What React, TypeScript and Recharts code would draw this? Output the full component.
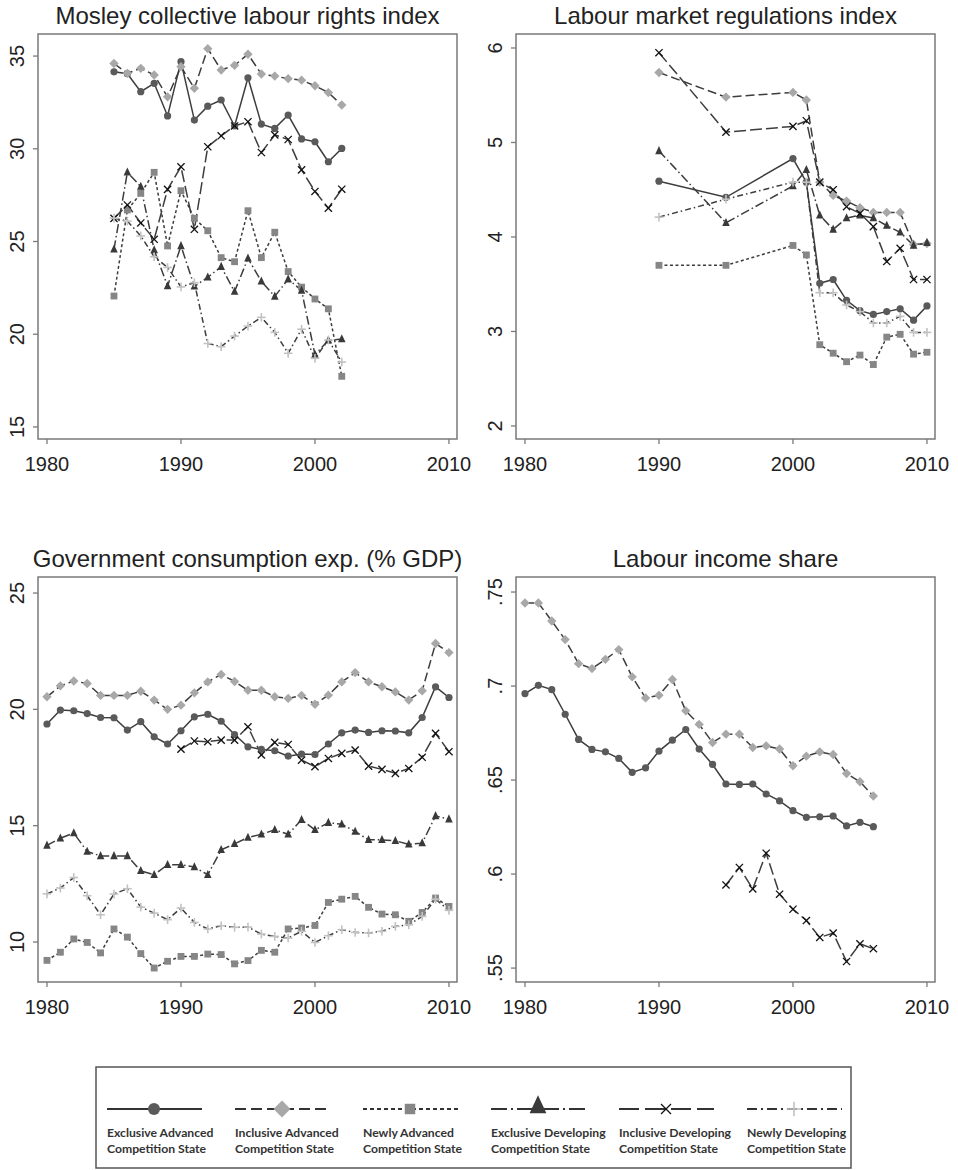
import React from 'react';
import { LineChart, Line, XAxis, YAxis, ReferenceArea } from 'recharts';

// ---------- data ----------
const mosleyYears = [1985, 1986, 1987, 1988, 1989, 1990, 1991, 1992, 1993, 1994, 1995, 1996, 1997, 1998, 1999, 2000, 2001, 2002];
const mosleyEA = [34.15, 34.05, 33.08, 33.53, 31.77, 34.7, 31.55, 32.3, 32.63, 31.23, 33.83, 31.33, 31.1, 31.82, 30.53, 30.38, 29.3, 30.02];
const mosleyIA = [34.6, 34.07, 34.34, 33.98, 32.8, 34.43, 33.26, 35.4, 34.25, 34.5, 35.1, 34.03, 33.92, 33.78, 33.7, 33.4, 33.03, 32.36];
const mosleyNA = [22.06, 26.7, 27.6, 28.73, 24.76, 27.74, 26.25, 25.58, 24.13, 23.91, 26.66, 24.13, 25.5, 23.38, 22.54, 21.9, 21.37, 17.73];
const mosleyED = [24.58, 28.73, 27.96, 24.54, 22.6, 24.76, 22.58, 23.07, 23.64, 22.3, 24.09, 22.85, 22.04, 22.97, 22.36, 18.9, 19.67, 19.74];
const mosleyID = [26.25, 26.97, 26.0, 25.12, 27.81, 29.03, 25.66, 30.11, 30.7, 31.23, 31.46, 29.8, 30.75, 30.5, 28.86, 27.7, 26.8, 27.82];
const mosleyND = [26.26, 26.1, 25.3, 24.18, 23.6, 22.55, 22.78, 19.5, 19.33, 19.9, 20.44, 20.91, 20.1, 18.97, 20.27, 18.7, 19.69, 18.5];

const lmrYears = [1990, 1995, 2000, 2001, 2002, 2003, 2004, 2005, 2006, 2007, 2008, 2009, 2010];
const lmrEA = [4.59, 4.42, 4.83, 4.58, 3.51, 3.55, 3.33, 3.22, 3.18, 3.21, 3.24, 3.12, 3.27];
const lmrIA = [5.74, 5.48, 5.53, 5.45, 4.58, 4.44, 4.38, 4.31, 4.26, 4.26, 4.26, 3.92, 3.93];
const lmrNA = [3.7, 3.7, 3.91, 3.81, 2.86, 2.77, 2.68, 2.75, 2.65, 2.94, 2.97, 2.76, 2.78];
const lmrED = [4.91, 4.15, 4.54, 4.71, 4.23, 4.08, 4.2, 4.23, 4.2, 4.12, 4.05, 3.91, 3.94];
const lmrID = [5.95, 5.11, 5.17, 5.23, 4.58, 4.5, 4.32, 4.25, 4.11, 3.74, 3.88, 3.55, 3.55];
const lmrND = [4.21, 4.4, 4.58, 4.58, 3.41, 3.41, 3.28, 3.21, 3.09, 3.09, 3.16, 2.99, 2.99];

const govYears = [1980, 1981, 1982, 1983, 1984, 1985, 1986, 1987, 1988, 1989, 1990, 1991, 1992, 1993, 1994, 1995, 1996, 1997, 1998, 1999, 2000, 2001, 2002, 2003, 2004, 2005, 2006, 2007, 2008, 2009, 2010];
const govEA = [19.37, 19.97, 19.94, 19.82, 19.65, 19.64, 19.11, 19.47, 18.82, 18.51, 19.08, 19.68, 19.79, 19.49, 18.92, 18.39, 18.28, 18.22, 17.99, 18.08, 18.06, 18.51, 18.99, 19.11, 19.01, 19.08, 19.07, 18.99, 19.65, 20.97, 20.51];
const govIA = [20.54, 21.01, 21.22, 21.11, 20.6, 20.6, 20.6, 20.78, 20.4, 20.0, 20.18, 20.71, 21.18, 21.5, 21.2, 20.82, 20.82, 20.54, 20.47, 20.6, 20.22, 20.61, 21.18, 21.58, 21.18, 20.97, 20.75, 20.4, 20.8, 22.83, 22.44];
const govNA = [9.21, 9.56, 10.13, 9.98, 9.53, 10.56, 10.21, 9.5, 8.88, 9.17, 9.38, 9.38, 9.48, 9.46, 9.06, 9.2, 9.64, 9.56, 10.56, 10.6, 10.71, 11.7, 11.84, 11.96, 11.49, 11.2, 11.17, 10.89, 11.27, 11.89, 11.53];
const govED = [14.15, 14.46, 14.68, 13.89, 13.7, 13.7, 13.7, 13.06, 12.89, 13.32, 13.32, 13.22, 12.89, 13.96, 14.22, 14.49, 14.63, 14.82, 14.63, 15.25, 14.82, 15.13, 15.06, 14.75, 14.39, 14.39, 14.35, 14.2, 14.25, 15.42, 15.28];
const govID = [null, null, null, null, null, null, null, null, null, null, 18.29, 18.64, 18.61, 18.68, 18.68, 19.25, 18.04, 18.58, 18.49, 17.82, 17.54, 17.89, 18.11, 18.25, 17.56, 17.42, 17.25, 17.46, 17.94, 18.97, 18.18];
const govND = [12.07, 12.32, 12.77, 11.99, 11.17, 12.06, 12.29, 11.5, 11.24, 10.96, 11.46, 10.84, 10.56, 10.7, 10.63, 10.64, 10.34, 10.24, 10.17, 10.46, 9.98, 10.27, 10.53, 10.41, 10.39, 10.46, 10.67, 10.74, 11.1, 11.84, 11.36];

const lisYears = [1980, 1981, 1982, 1983, 1984, 1985, 1986, 1987, 1988, 1989, 1990, 1991, 1992, 1993, 1994, 1995, 1996, 1997, 1998, 1999, 2000, 2001, 2002, 2003, 2004, 2005, 2006];
const lisEA = [0.696, 0.7004, 0.6981, 0.685, 0.6716, 0.6663, 0.665, 0.6615, 0.6541, 0.6565, 0.6654, 0.6712, 0.6769, 0.6665, 0.6583, 0.6479, 0.6477, 0.6479, 0.6426, 0.6389, 0.6337, 0.6302, 0.6305, 0.6309, 0.6256, 0.6275, 0.6252];
const lisIA = [0.7442, 0.7442, 0.7346, 0.7247, 0.7119, 0.7093, 0.7142, 0.7194, 0.7049, 0.6937, 0.6951, 0.7035, 0.6868, 0.6796, 0.67, 0.6744, 0.6744, 0.6673, 0.6682, 0.6665, 0.6576, 0.6627, 0.665, 0.6636, 0.6535, 0.6491, 0.6415];
const lisID = [null, null, null, null, null, null, null, null, null, null, null, null, null, null, null, 0.5942, 0.6035, 0.5921, 0.6111, 0.5893, 0.5813, 0.5753, 0.5663, 0.5686, 0.5535, 0.5629, 0.5603];

const xTicks = [1980, 1990, 2000, 2010];

// ---------- series styles ----------
type MarkerKind = 'circle' | 'diamond' | 'square' | 'triangle' | 'cross' | 'plus';

interface SeriesStyle {
  key: string;
  label: [string, string];
  marker: MarkerKind;
  fill: string;
  dash?: string;
  legendDash?: string;
}

const SERIES: SeriesStyle[] = [
  { key: 'ea', label: ['Exclusive Advanced', 'Competition State'], marker: 'circle', fill: '#5a5a5a' },
  { key: 'ia', label: ['Inclusive Advanced', 'Competition State'], marker: 'diamond', fill: '#a8a8a8', dash: '9 4', legendDash: '11 5' },
  { key: 'na', label: ['Newly Advanced', 'Competition State'], marker: 'square', fill: '#868686', dash: '3 2.5', legendDash: '4 3' },
  { key: 'ed', label: ['Exclusive Developing', 'Competition State'], marker: 'triangle', fill: '#3a3a3a', dash: '9 3 1.5 3', legendDash: '16 4 2 4' },
  { key: 'id', label: ['Inclusive Developing', 'Competition State'], marker: 'cross', fill: '#111111', dash: '12 4', legendDash: '20 6' },
  { key: 'nd', label: ['Newly Developing', 'Competition State'], marker: 'plus', fill: '#c2c2c2', dash: '6 3 1.5 3', legendDash: '10 4 2 4' },
];

const LINE_COLOR = '#3d3d3d';
const FRAME = '#7a7a7a';
const FONT = '"Liberation Sans", Arial, sans-serif';

function Marker({ kind, cx, cy, s, fill }: { kind: MarkerKind; cx: number; cy: number; s: number; fill: string }) {
  switch (kind) {
    case 'circle':
      return <circle cx={cx} cy={cy} r={s} fill={fill} />;
    case 'diamond':
      return (
        <polygon
          points={`${cx},${cy - s * 1.3} ${cx + s * 1.3},${cy} ${cx},${cy + s * 1.3} ${cx - s * 1.3},${cy}`}
          fill={fill}
        />
      );
    case 'square':
      return <rect x={cx - s * 0.95} y={cy - s * 0.95} width={s * 1.9} height={s * 1.9} fill={fill} />;
    case 'triangle':
      return (
        <polygon
          points={`${cx},${cy - s * 1.35} ${cx + s * 1.05},${cy + s * 0.9} ${cx - s * 1.05},${cy + s * 0.9}`}
          fill={fill}
        />
      );
    case 'cross':
      return (
        <g stroke={fill} strokeWidth={1.3}>
          <line x1={cx - s} y1={cy - s} x2={cx + s} y2={cy + s} />
          <line x1={cx - s} y1={cy + s} x2={cx + s} y2={cy - s} />
        </g>
      );
    default:
      return (
        <g stroke={fill} strokeWidth={1.6}>
          <line x1={cx - s * 1.2} y1={cy} x2={cx + s * 1.2} y2={cy} />
          <line x1={cx} y1={cy - s * 1.2} x2={cx} y2={cy + s * 1.2} />
        </g>
      );
  }
}

const renderDot = (st: SeriesStyle) => (p: any) => {
  const k = `${st.key}-${p.index}`;
  if (p.cx == null || p.cy == null || p.value == null) return <g key={k} />;
  return <Marker key={k} kind={st.marker} cx={p.cx} cy={p.cy} s={3.6} fill={st.fill} />;
};

// y tick labels stand on their side, read bottom to top
const RotatedTick = (props: any) => {
  const { x, y, payload, fmt } = props;
  return (
    <text
      x={x}
      y={y}
      transform={`rotate(-90 ${x} ${y})`}
      textAnchor="middle"
      fontSize={20}
      fontFamily={FONT}
      fill="#222"
    >
      {fmt(payload.value)}
    </text>
  );
};

interface Panel {
  title: string;
  left: number;
  top: number;
  years: number[];
  values: Record<string, (number | null)[]>;
  yDomain: [number, number];
  yTicks: number[];
  fmt: (v: number) => string;
}

const plain = (v: number) => String(v);
const noLeadingZero = (v: number) => String(v).replace(/^0/, '');

const panels: Panel[] = [
  {
    title: 'Mosley collective labour rights index',
    left: 0,
    top: 0,
    years: mosleyYears,
    values: { ea: mosleyEA, ia: mosleyIA, na: mosleyNA, ed: mosleyED, id: mosleyID, nd: mosleyND },
    yDomain: [14.35, 36.19],
    yTicks: [15, 20, 25, 30, 35],
    fmt: plain,
  },
  {
    title: 'Labour market regulations index',
    left: 478,
    top: 0,
    years: lmrYears,
    values: { ea: lmrEA, ia: lmrIA, na: lmrNA, ed: lmrED, id: lmrID, nd: lmrND },
    yDomain: [1.862, 6.148],
    yTicks: [2, 3, 4, 5, 6],
    fmt: plain,
  },
  {
    title: 'Government consumption exp. (% GDP)',
    left: 0,
    top: 543,
    years: govYears,
    values: { ea: govEA, ia: govIA, na: govNA, ed: govED, id: govID, nd: govND },
    yDomain: [8.28, 25.69],
    yTicks: [10, 15, 20, 25],
    fmt: plain,
  },
  {
    title: 'Labour income share',
    left: 478,
    top: 543,
    years: lisYears,
    values: { ea: lisEA, ia: lisIA, id: lisID },
    yDomain: [0.5426, 0.758],
    yTicks: [0.55, 0.6, 0.65, 0.7, 0.75],
    fmt: noLeadingZero,
  },
];

const X_DOMAIN: [number, number] = [1979.33, 2010.6];

function PanelChart({ panel }: { panel: Panel }) {
  const keys = SERIES.filter((s) => panel.values[s.key]);
  const rows = panel.years.map((year, i) => {
    const row: Record<string, number | null> = { year };
    keys.forEach((s) => {
      row[s.key] = panel.values[s.key][i];
    });
    return row;
  });

  return (
    <div style={{ position: 'absolute', left: panel.left, top: panel.top, width: 480, height: 480 }}>
      <div
        style={{
          position: 'absolute',
          left: 38,
          width: 419,
          top: 4,
          fontSize: 24,
          lineHeight: '24px',
          fontFamily: FONT,
          color: '#222',
          whiteSpace: 'nowrap',
          display: 'flex',
          justifyContent: 'center',
        }}
      >
        {panel.title}
      </div>
      <LineChart width={480} height={480} data={rows} margin={{ top: 34, right: 23, bottom: 6, left: 0 }}>
        <XAxis
          dataKey="year"
          type="number"
          domain={X_DOMAIN}
          ticks={xTicks}
          allowDataOverflow
          axisLine={false}
          tickSize={5}
          tickMargin={13}
          height={35}
          tickLine={{ stroke: FRAME, strokeWidth: 1.3 }}
          tick={{ fontSize: 20, fill: '#222', fontFamily: FONT }}
        />
        <YAxis
          type="number"
          domain={panel.yDomain}
          ticks={panel.yTicks}
          allowDataOverflow
          axisLine={false}
          width={38}
          tickSize={5}
          tickMargin={9}
          tickLine={{ stroke: FRAME, strokeWidth: 1.3 }}
          tick={<RotatedTick fmt={panel.fmt} />}
        />
        <ReferenceArea
          x1={X_DOMAIN[0]}
          x2={X_DOMAIN[1]}
          y1={panel.yDomain[0]}
          y2={panel.yDomain[1]}
          fill="none"
          fillOpacity={0}
          stroke={FRAME}
          strokeWidth={1.5}
        />
        {keys.map((s) => (
          <Line
            key={s.key}
            dataKey={s.key}
            type="linear"
            stroke={LINE_COLOR}
            strokeWidth={1.5}
            strokeDasharray={s.dash}
            dot={renderDot(s)}
            activeDot={false}
            isAnimationActive={false}
          />
        ))}
      </LineChart>
    </div>
  );
}

function LegendBox() {
  return (
    <svg width={958} height={130} style={{ position: 'absolute', left: 0, top: 1040 }}>
      <rect x={96} y={27} width={755} height={101} fill="white" stroke="#555" strokeWidth={1.5} />
      {SERIES.map((s, i) => {
        const x0 = 107 + i * 128;
        const big: Record<MarkerKind, number> = { circle: 6, diamond: 6.5, square: 5.5, triangle: 8, cross: 5, plus: 6 };
        return (
          <g key={s.key}>
            <line x1={x0} y1={69} x2={x0 + 95} y2={69} stroke="#333" strokeWidth={2.2} strokeDasharray={s.legendDash} />
            <Marker kind={s.marker} cx={x0 + 47} cy={s.marker === 'triangle' ? 66 : 69} s={big[s.marker]} fill={s.fill} />
            <text x={x0} y={97} fontFamily="Lato, sans-serif" fontWeight={700} fontSize={12.2} fill="#333">
              {s.label[0]}
            </text>
            <text x={x0} y={113} fontFamily="Lato, sans-serif" fontWeight={700} fontSize={12.2} fill="#333">
              {s.label[1]}
            </text>
          </g>
        );
      })}
    </svg>
  );
}

export default function App() {
  return (
    <div style={{ position: 'absolute', left: 0, top: 0, width: 958, height: 1170, background: '#fff' }}>
      {panels.map((p) => (
        <PanelChart key={p.title} panel={p} />
      ))}
      <LegendBox />
    </div>
  );
}
